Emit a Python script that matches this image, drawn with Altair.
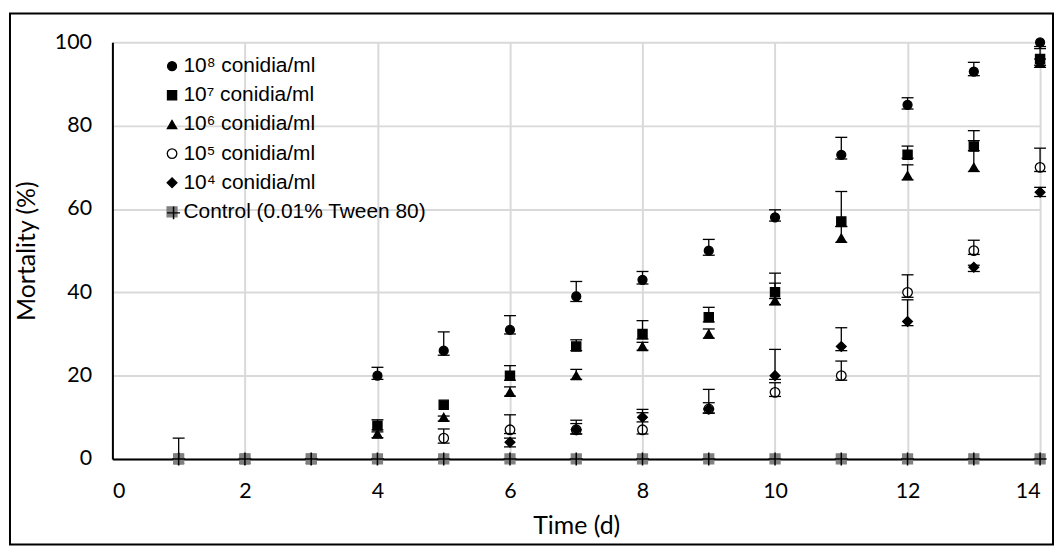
import altair as alt
import pandas as pd

days = list(range(1, 15))
series = ["10⁸ conidia/ml", "10⁷ conidia/ml", "10⁶ conidia/ml",
          "10⁵ conidia/ml", "10⁴ conidia/ml", "Control (0.01% Tween 80)"]

m8 = [0, 0, 0, 20, 26, 31, 39, 43, 50, 58, 73, 85, 93, 100]
u8 = [0, 0, 0, 22.0, 30.5, 34.4, 42.6, 45.0, 52.7, 59.8, 77.2, 86.7, 95.2, 100]
l8 = [0, 0, 0, 19.1, 24.9, 30.0, 37.8, 42.0, 48.9, 57.1, 72.0, 84.0, 92.0, 98.5]

m7 = [0, 0, 0, 8, 13, 20, 27, 30, 34, 40, 57, 73, 75, 96]
u7 = [0, 0, 0, 9.4, 13, 22.4, 28.6, 33.2, 36.4, 44.6, 64.2, 75.1, 78.8, 99]
l7 = [0, 0, 0, 7.0, 13, 18.9, 26.0, 28.8, 32.9, 38.5, 55.8, 72.2, 74.0, 94.5]

m6 = [0, 0, 0, 6, 10, 16, 20, 27, 30, 38, 53, 68, 70, 95]
u6 = [0, 0, 0, 6.5, 10.3, 17.3, 21.5, 28.0, 31.2, 42.2, 55.8, 70.6, 76.4, 96]
l6 = [0, 0, 0, 5.1, 9.1, 15.1, 19.1, 26.1, 29.0, 37.0, 52.0, 67.0, 69.0, 94]

m5 = [0, 0, 0, 0, 5, 7, 7, 7, 12, 16, 20, 40, 50, 70]
u5 = [0, 0, 0, 0, 7.2, 10.6, 9.3, 11.1, 16.7, 18.3, 23.5, 44.2, 52.5, 74.6]
l5 = [0, 0, 0, 0, 3.8, 6.1, 6.0, 6.0, 11.0, 15.0, 18.9, 38.8, 49.1, 69.0]

m4 = [0, 0, 0, 0, 0, 4, 7, 10, 12, 20, 27, 33, 46, 64]
u4 = [0, 0, 0, 0, 0, 5.0, 8.5, 11.9, 13.5, 26.3, 31.5, 38.2, 46.5, 65.2]
l4 = [0, 0, 0, 0, 0, 2.9, 6.0, 8.9, 11.0, 19.1, 26.0, 32.0, 45.0, 63.0]

mc = [0] * 14
uc = [5, 0, 0, 0, 0, 0, 0, 0, 0, 0, 0, 0, 0, 0]
lc = [0] * 14

means = [m8, m7, m6, m5, m4, mc]
uppers = [u8, u7, u6, u5, u4, uc]
lowers = [l8, l7, l6, l5, l4, lc]

rows = []
for s, ms, us, ls in zip(series, means, uppers, lowers):
    for d, m, u, l in zip(days, ms, us, ls):
        rows.append({"day": d, "series": s, "mean": m, "upper": u, "lower": l})
df = pd.DataFrame(rows)
ctrl = df[df["series"] == series[-1]].copy()
ctrl["plus"] = series[-1]
err = df[df["upper"] > df["lower"]]
capu = df[df["upper"] > df["mean"]]
capl = df[df["lower"] < df["mean"]]

shapes = ["circle", "square", "triangle-up", "circle", "diamond", "square"]
fills = ["black", "black", "black", "white", "black", "#808080"]
strokes = ["black", "black", "black", "black", "black", "#808080"]
sizes = [81, 100, 100, 81, 36, 169]
plus_path = "M-1,0L1,0M0,-1L0,1"

LX, LY = 49.5, 13.5

leg = alt.Legend(title=None, orient="none", legendX=LX, legendY=LY, padding=0,
                 labelFont="Liberation Sans", labelFontSize=21, labelColor="black",
                 labelLimit=500, rowPadding=7.3, labelOffset=1, symbolStrokeWidth=1.3)

xs = alt.Scale(domain=[0, 14], nice=False)
ys = alt.Scale(domain=[0, 100], nice=False)
xax = alt.Axis(values=list(range(0, 15, 2)), title="Time (d)", grid=True)
yax = alt.Axis(values=list(range(0, 101, 20)), title="Mortality (%)", grid=True)

X = alt.X("day:Q", scale=xs, axis=xax)
Y = alt.Y("mean:Q", scale=ys, axis=yax)

border = alt.Chart(pd.DataFrame({"a": [0]})).mark_rect(
    fill="transparent", stroke="black", strokeWidth=2
).encode(x=alt.value(-103), x2=alt.value(946), y=alt.value(-29), y2=alt.value(505))

points = alt.Chart(df).mark_point(filled=True, opacity=1, strokeWidth=1.3).encode(
    x=X, y=Y,
    shape=alt.Shape("series:N", scale=alt.Scale(domain=series, range=shapes), legend=leg),
    fill=alt.Fill("series:N", scale=alt.Scale(domain=series, range=fills), legend=leg),
    stroke=alt.Stroke("series:N", scale=alt.Scale(domain=series, range=strokes), legend=leg),
    size=alt.Size("series:N", scale=alt.Scale(domain=series, range=sizes), legend=leg),
)

plus_leg = alt.Legend(title=None, orient="none", legendX=LX + 4.5, legendY=LY + 150.5,
                      padding=0, labelExpr="''", labelFontSize=1, labelOffset=0,
                      symbolSize=169, symbolType=plus_path, symbolStrokeColor="black",
                      symbolFillColor="transparent", symbolStrokeWidth=1.5)
plus = alt.Chart(ctrl).mark_point(filled=False, stroke="black", shape=plus_path,
                                  strokeWidth=1.5, size=169).encode(
    x=X, y=Y,
    opacity=alt.Opacity("plus:N", scale=alt.Scale(domain=[series[-1]], range=[1]),
                        legend=plus_leg),
)

rule = alt.Chart(err).mark_rule(color="black", strokeWidth=1.3).encode(
    x=X, y=alt.Y("lower:Q", scale=ys, axis=yax), y2="upper:Q")
cap_u = alt.Chart(capu).mark_tick(orient="horizontal", size=12, thickness=1.3,
                                  color="black", opacity=1).encode(
    x=X, y=alt.Y("upper:Q", scale=ys, axis=yax))
cap_l = alt.Chart(capl).mark_tick(orient="horizontal", size=12, thickness=1.3,
                                  color="black", opacity=1).encode(
    x=X, y=alt.Y("lower:Q", scale=ys, axis=yax))

chart = alt.layer(border, points, plus, rule, cap_u, cap_l).properties(
    width=933, height=419,
    padding={"left": 105, "top": 33, "right": 14, "bottom": 88},
    autosize=alt.AutoSizeParams(type="none"),
).configure_view(strokeWidth=0).configure_axis(
    gridColor="#d9d9d9", gridWidth=2, domainColor="black", domainWidth=2,
    ticks=False, tickSize=0, labelFont="Lato", labelFontSize=21.5, labelColor="black",
    titleFont="Lato", titleFontSize=25, titleFontWeight="normal", titleColor="black",
).configure_axisX(labelPadding=22, titlePadding=11).configure_axisY(
    labelPadding=21, titlePadding=15)

chart.save("out.html", embed_options={"renderer": "svg", "actions": False})
